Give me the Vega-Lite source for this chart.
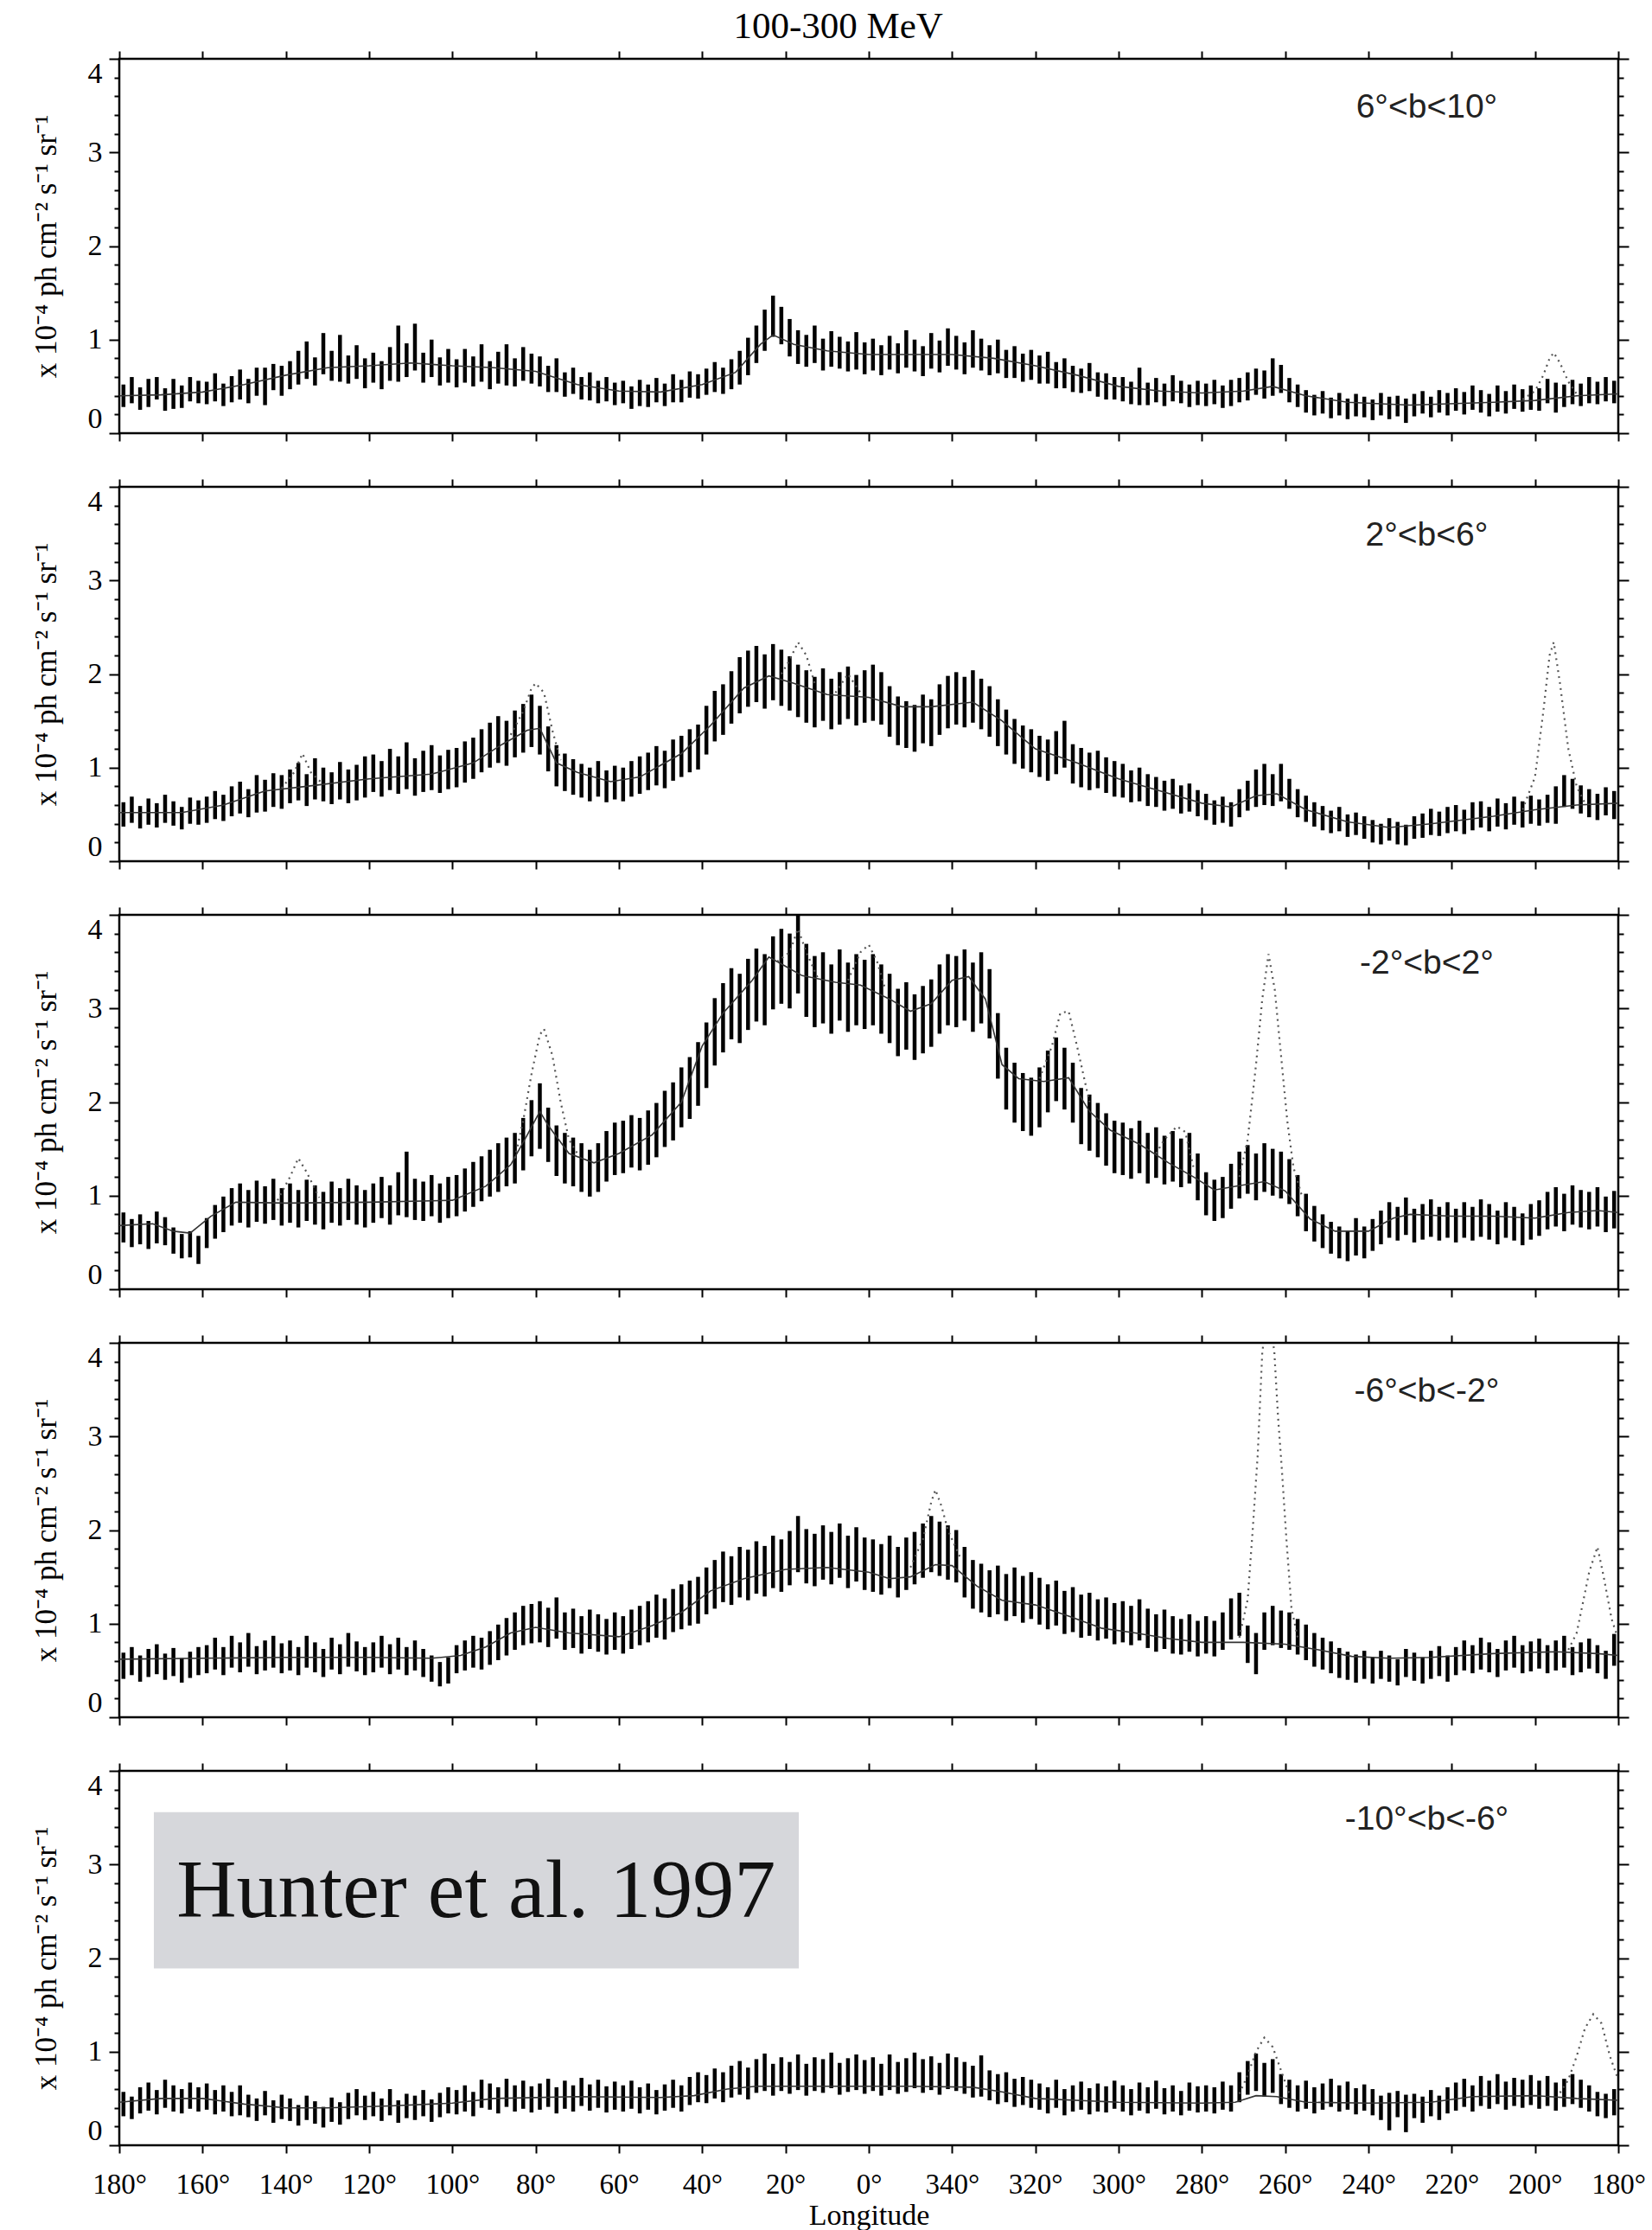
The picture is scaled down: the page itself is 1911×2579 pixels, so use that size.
{
"$schema":"https://vega.github.io/schema/vega-lite/v6.json",
"padding":{"left":34,"top":9,"right":5,"bottom":0},
"background":"white",
"title":{"text":"100-300 MeV","font":"Liberation Serif","fontSize":43,"fontWeight":"normal","color":"black","anchor":"middle","baseline":"alphabetic","offset":-30},
"spacing":38,
"config":{
"view":{"stroke":"black","strokeWidth":2.5},
"axis":{"domain":false,"grid":false,"tickColor":"black","tickWidth":2,"tickSize":9,"labelFont":"Liberation Serif","labelFontSize":34,"labelColor":"black","titleFont":"Liberation Serif","titleFontSize":35,"titleFontWeight":"normal","titleColor":"black"}
},
"datasets":{
"p1":[{"l":179,"v":0.40,"e":0.12},{"l":177,"v":0.46,"e":0.14},{"l":175,"v":0.37,"e":0.12},{"l":173,"v":0.43,"e":0.15},{"l":171,"v":0.48,"e":0.12},{"l":169,"v":0.36,"e":0.12},{"l":167,"v":0.42,"e":0.16},{"l":165,"v":0.39,"e":0.12},{"l":163,"v":0.47,"e":0.13},{"l":161,"v":0.44,"e":0.12},
{"l":159,"v":0.43,"e":0.12},{"l":157,"v":0.49,"e":0.15},{"l":155,"v":0.41,"e":0.12},{"l":153,"v":0.47,"e":0.14},{"l":151,"v":0.52,"e":0.16},{"l":149,"v":0.45,"e":0.13},{"l":147,"v":0.55,"e":0.15},{"l":145,"v":0.50,"e":0.2},{"l":143,"v":0.60,"e":0.14},{"l":141,"v":0.56,"e":0.16},
{"l":139,"v":0.62,"e":0.15},{"l":137,"v":0.70,"e":0.18},{"l":135,"v":0.78,"e":0.2},{"l":133,"v":0.66,"e":0.15},{"l":131,"v":0.85,"e":0.22},{"l":129,"v":0.72,"e":0.16},{"l":127,"v":0.80,"e":0.25},{"l":125,"v":0.68,"e":0.15},{"l":123,"v":0.76,"e":0.18},{"l":121,"v":0.64,"e":0.16},
{"l":119,"v":0.70,"e":0.16},{"l":117,"v":0.62,"e":0.15},{"l":115,"v":0.74,"e":0.18},{"l":113,"v":0.85,"e":0.3},{"l":111,"v":0.78,"e":0.18},{"l":109,"v":0.92,"e":0.25},{"l":107,"v":0.70,"e":0.16},{"l":105,"v":0.80,"e":0.2},{"l":103,"v":0.66,"e":0.15},{"l":101,"v":0.72,"e":0.18},
{"l":99,"v":0.64,"e":0.15},{"l":97,"v":0.72,"e":0.18},{"l":95,"v":0.66,"e":0.16},{"l":93,"v":0.75,"e":0.2},{"l":91,"v":0.62,"e":0.15},{"l":89,"v":0.70,"e":0.17},{"l":87,"v":0.73,"e":0.22},{"l":85,"v":0.65,"e":0.15},{"l":83,"v":0.74,"e":0.18},{"l":81,"v":0.69,"e":0.16},
{"l":79,"v":0.66,"e":0.16},{"l":77,"v":0.58,"e":0.14},{"l":75,"v":0.62,"e":0.18},{"l":73,"v":0.52,"e":0.13},{"l":71,"v":0.56,"e":0.14},{"l":69,"v":0.48,"e":0.12},{"l":67,"v":0.50,"e":0.15},{"l":65,"v":0.44,"e":0.12},{"l":63,"v":0.47,"e":0.13},{"l":61,"v":0.42,"e":0.12},
{"l":59,"v":0.44,"e":0.12},{"l":57,"v":0.38,"e":0.12},{"l":55,"v":0.43,"e":0.14},{"l":53,"v":0.40,"e":0.12},{"l":51,"v":0.46,"e":0.13},{"l":49,"v":0.41,"e":0.12},{"l":47,"v":0.48,"e":0.15},{"l":45,"v":0.45,"e":0.12},{"l":43,"v":0.52,"e":0.14},{"l":41,"v":0.50,"e":0.13},
{"l":39,"v":0.55,"e":0.14},{"l":37,"v":0.60,"e":0.16},{"l":35,"v":0.56,"e":0.14},{"l":33,"v":0.63,"e":0.16},{"l":31,"v":0.70,"e":0.18},{"l":29,"v":0.82,"e":0.2},{"l":27,"v":0.95,"e":0.2},{"l":25,"v":1.10,"e":0.22},{"l":23,"v":1.25,"e":0.22},{"l":21,"v":1.15,"e":0.2},
{"l":19,"v":1.02,"e":0.2},{"l":17,"v":0.92,"e":0.18},{"l":15,"v":0.88,"e":0.17},{"l":13,"v":0.95,"e":0.2},{"l":11,"v":0.84,"e":0.17},{"l":9,"v":0.90,"e":0.19},{"l":7,"v":0.86,"e":0.17},{"l":5,"v":0.82,"e":0.16},{"l":3,"v":0.88,"e":0.2},{"l":1,"v":0.80,"e":0.17},
{"l":-1,"v":0.84,"e":0.17},{"l":-3,"v":0.78,"e":0.16},{"l":-5,"v":0.86,"e":0.18},{"l":-7,"v":0.80,"e":0.16},{"l":-9,"v":0.90,"e":0.2},{"l":-11,"v":0.83,"e":0.17},{"l":-13,"v":0.77,"e":0.16},{"l":-15,"v":0.88,"e":0.19},{"l":-17,"v":0.82,"e":0.17},{"l":-19,"v":0.92,"e":0.2},
{"l":-21,"v":0.86,"e":0.18},{"l":-23,"v":0.80,"e":0.17},{"l":-25,"v":0.90,"e":0.2},{"l":-27,"v":0.84,"e":0.17},{"l":-29,"v":0.78,"e":0.16},{"l":-31,"v":0.82,"e":0.18},{"l":-33,"v":0.74,"e":0.15},{"l":-35,"v":0.76,"e":0.17},{"l":-37,"v":0.70,"e":0.15},{"l":-39,"v":0.73,"e":0.16},
{"l":-41,"v":0.68,"e":0.15},{"l":-43,"v":0.70,"e":0.17},{"l":-45,"v":0.62,"e":0.14},{"l":-47,"v":0.64,"e":0.16},{"l":-49,"v":0.58,"e":0.14},{"l":-51,"v":0.56,"e":0.13},{"l":-53,"v":0.60,"e":0.15},{"l":-55,"v":0.52,"e":0.13},{"l":-57,"v":0.50,"e":0.14},{"l":-59,"v":0.48,"e":0.12},
{"l":-61,"v":0.47,"e":0.13},{"l":-63,"v":0.43,"e":0.12},{"l":-65,"v":0.50,"e":0.2},{"l":-67,"v":0.42,"e":0.12},{"l":-69,"v":0.46,"e":0.13},{"l":-71,"v":0.41,"e":0.12},{"l":-73,"v":0.48,"e":0.14},{"l":-75,"v":0.44,"e":0.12},{"l":-77,"v":0.40,"e":0.12},{"l":-79,"v":0.43,"e":0.13},
{"l":-81,"v":0.41,"e":0.12},{"l":-83,"v":0.44,"e":0.13},{"l":-85,"v":0.39,"e":0.12},{"l":-87,"v":0.43,"e":0.14},{"l":-89,"v":0.46,"e":0.13},{"l":-91,"v":0.50,"e":0.15},{"l":-93,"v":0.55,"e":0.14},{"l":-95,"v":0.52,"e":0.15},{"l":-97,"v":0.60,"e":0.2},{"l":-99,"v":0.58,"e":0.15},
{"l":-101,"v":0.46,"e":0.13},{"l":-103,"v":0.40,"e":0.12},{"l":-105,"v":0.34,"e":0.12},{"l":-107,"v":0.30,"e":0.11},{"l":-109,"v":0.33,"e":0.12},{"l":-111,"v":0.27,"e":0.11},{"l":-113,"v":0.31,"e":0.12},{"l":-115,"v":0.26,"e":0.11},{"l":-117,"v":0.30,"e":0.12},{"l":-119,"v":0.28,"e":0.11},
{"l":-121,"v":0.25,"e":0.11},{"l":-123,"v":0.31,"e":0.12},{"l":-125,"v":0.27,"e":0.12},{"l":-127,"v":0.29,"e":0.11},{"l":-129,"v":0.24,"e":0.13},{"l":-131,"v":0.30,"e":0.12},{"l":-133,"v":0.33,"e":0.12},{"l":-135,"v":0.28,"e":0.11},{"l":-137,"v":0.34,"e":0.12},{"l":-139,"v":0.31,"e":0.12},
{"l":-141,"v":0.36,"e":0.12},{"l":-143,"v":0.32,"e":0.12},{"l":-145,"v":0.38,"e":0.13},{"l":-147,"v":0.34,"e":0.12},{"l":-149,"v":0.30,"e":0.12},{"l":-151,"v":0.37,"e":0.14},{"l":-153,"v":0.33,"e":0.12},{"l":-155,"v":0.39,"e":0.13},{"l":-157,"v":0.35,"e":0.12},{"l":-159,"v":0.38,"e":0.13},
{"l":-161,"v":0.36,"e":0.12},{"l":-163,"v":0.45,"e":0.13},{"l":-165,"v":0.38,"e":0.16},{"l":-167,"v":0.40,"e":0.12},{"l":-169,"v":0.44,"e":0.13},{"l":-171,"v":0.41,"e":0.12},{"l":-173,"v":0.46,"e":0.14},{"l":-175,"v":0.43,"e":0.12},{"l":-177,"v":0.47,"e":0.13},{"l":-179,"v":0.44,"e":0.12}],
"p2":[{"l":179,"v":0.50,"e":0.13},{"l":177,"v":0.55,"e":0.14},{"l":175,"v":0.47,"e":0.12},{"l":173,"v":0.53,"e":0.14},{"l":171,"v":0.49,"e":0.13},{"l":169,"v":0.56,"e":0.15},{"l":167,"v":0.51,"e":0.13},{"l":165,"v":0.46,"e":0.12},{"l":163,"v":0.54,"e":0.14},{"l":161,"v":0.52,"e":0.13},
{"l":159,"v":0.55,"e":0.14},{"l":157,"v":0.60,"e":0.15},{"l":155,"v":0.57,"e":0.14},{"l":153,"v":0.64,"e":0.16},{"l":151,"v":0.68,"e":0.17},{"l":149,"v":0.62,"e":0.15},{"l":147,"v":0.72,"e":0.2},{"l":145,"v":0.70,"e":0.17},{"l":143,"v":0.76,"e":0.18},{"l":141,"v":0.74,"e":0.18},
{"l":139,"v":0.80,"e":0.18},{"l":137,"v":0.85,"e":0.2},{"l":135,"v":0.76,"e":0.17},{"l":133,"v":0.88,"e":0.22},{"l":131,"v":0.82,"e":0.18},{"l":129,"v":0.78,"e":0.17},{"l":127,"v":0.86,"e":0.2},{"l":125,"v":0.80,"e":0.18},{"l":123,"v":0.84,"e":0.19},{"l":121,"v":0.90,"e":0.22},
{"l":119,"v":0.94,"e":0.2},{"l":117,"v":0.88,"e":0.19},{"l":115,"v":0.98,"e":0.22},{"l":113,"v":0.92,"e":0.2},{"l":111,"v":1.02,"e":0.25},{"l":109,"v":0.90,"e":0.2},{"l":107,"v":0.96,"e":0.22},{"l":105,"v":1.00,"e":0.24},{"l":103,"v":0.93,"e":0.2},{"l":101,"v":0.98,"e":0.21},
{"l":99,"v":1.00,"e":0.21},{"l":97,"v":1.06,"e":0.22},{"l":95,"v":1.10,"e":0.22},{"l":93,"v":1.18,"e":0.23},{"l":91,"v":1.24,"e":0.24},{"l":89,"v":1.30,"e":0.25},{"l":87,"v":1.26,"e":0.24},{"l":85,"v":1.36,"e":0.25},{"l":83,"v":1.42,"e":0.26},{"l":81,"v":1.50,"e":0.28},
{"l":79,"v":1.40,"e":0.26},{"l":77,"v":1.20,"e":0.24},{"l":75,"v":1.02,"e":0.22},{"l":73,"v":0.95,"e":0.2},{"l":71,"v":0.90,"e":0.19},{"l":69,"v":0.86,"e":0.18},{"l":67,"v":0.82,"e":0.18},{"l":65,"v":0.88,"e":0.19},{"l":63,"v":0.80,"e":0.17},{"l":61,"v":0.84,"e":0.18},
{"l":59,"v":0.82,"e":0.18},{"l":57,"v":0.88,"e":0.19},{"l":55,"v":0.92,"e":0.2},{"l":53,"v":0.96,"e":0.2},{"l":51,"v":1.02,"e":0.21},{"l":49,"v":0.98,"e":0.2},{"l":47,"v":1.08,"e":0.22},{"l":45,"v":1.12,"e":0.22},{"l":43,"v":1.18,"e":0.23},{"l":41,"v":1.22,"e":0.24},
{"l":39,"v":1.40,"e":0.26},{"l":37,"v":1.55,"e":0.27},{"l":35,"v":1.62,"e":0.27},{"l":33,"v":1.75,"e":0.28},{"l":31,"v":1.88,"e":0.3},{"l":29,"v":1.95,"e":0.3},{"l":27,"v":2.00,"e":0.3},{"l":25,"v":1.92,"e":0.29},{"l":23,"v":2.02,"e":0.3},{"l":21,"v":1.96,"e":0.3},
{"l":19,"v":1.90,"e":0.29},{"l":17,"v":1.82,"e":0.28},{"l":15,"v":1.76,"e":0.28},{"l":13,"v":1.70,"e":0.27},{"l":11,"v":1.78,"e":0.28},{"l":9,"v":1.68,"e":0.27},{"l":7,"v":1.74,"e":0.28},{"l":5,"v":1.80,"e":0.28},{"l":3,"v":1.72,"e":0.27},{"l":1,"v":1.76,"e":0.28},
{"l":-1,"v":1.80,"e":0.3},{"l":-3,"v":1.74,"e":0.28},{"l":-5,"v":1.60,"e":0.27},{"l":-7,"v":1.50,"e":0.26},{"l":-9,"v":1.46,"e":0.25},{"l":-11,"v":1.42,"e":0.25},{"l":-13,"v":1.52,"e":0.26},{"l":-15,"v":1.48,"e":0.25},{"l":-17,"v":1.62,"e":0.27},{"l":-19,"v":1.70,"e":0.28},
{"l":-21,"v":1.74,"e":0.28},{"l":-23,"v":1.70,"e":0.27},{"l":-25,"v":1.76,"e":0.28},{"l":-27,"v":1.68,"e":0.27},{"l":-29,"v":1.60,"e":0.27},{"l":-31,"v":1.48,"e":0.25},{"l":-33,"v":1.38,"e":0.24},{"l":-35,"v":1.28,"e":0.24},{"l":-37,"v":1.22,"e":0.23},{"l":-39,"v":1.18,"e":0.23},
{"l":-41,"v":1.12,"e":0.22},{"l":-43,"v":1.08,"e":0.22},{"l":-45,"v":1.16,"e":0.23},{"l":-47,"v":1.25,"e":0.25},{"l":-49,"v":1.04,"e":0.21},{"l":-51,"v":1.00,"e":0.21},{"l":-53,"v":0.96,"e":0.2},{"l":-55,"v":0.98,"e":0.2},{"l":-57,"v":0.92,"e":0.19},{"l":-59,"v":0.88,"e":0.19},
{"l":-61,"v":0.86,"e":0.18},{"l":-63,"v":0.80,"e":0.17},{"l":-65,"v":0.82,"e":0.18},{"l":-67,"v":0.76,"e":0.17},{"l":-69,"v":0.74,"e":0.16},{"l":-71,"v":0.70,"e":0.16},{"l":-73,"v":0.72,"e":0.16},{"l":-75,"v":0.66,"e":0.15},{"l":-77,"v":0.68,"e":0.15},{"l":-79,"v":0.62,"e":0.14},
{"l":-81,"v":0.58,"e":0.14},{"l":-83,"v":0.52,"e":0.13},{"l":-85,"v":0.55,"e":0.14},{"l":-87,"v":0.50,"e":0.13},{"l":-89,"v":0.62,"e":0.15},{"l":-91,"v":0.70,"e":0.16},{"l":-93,"v":0.78,"e":0.2},{"l":-95,"v":0.82,"e":0.22},{"l":-97,"v":0.76,"e":0.17},{"l":-99,"v":0.84,"e":0.2},
{"l":-101,"v":0.72,"e":0.16},{"l":-103,"v":0.62,"e":0.15},{"l":-105,"v":0.56,"e":0.14},{"l":-107,"v":0.50,"e":0.13},{"l":-109,"v":0.46,"e":0.13},{"l":-111,"v":0.42,"e":0.12},{"l":-113,"v":0.45,"e":0.13},{"l":-115,"v":0.38,"e":0.12},{"l":-117,"v":0.40,"e":0.12},{"l":-119,"v":0.36,"e":0.12},
{"l":-121,"v":0.32,"e":0.12},{"l":-123,"v":0.29,"e":0.11},{"l":-125,"v":0.34,"e":0.12},{"l":-127,"v":0.30,"e":0.12},{"l":-129,"v":0.28,"e":0.11},{"l":-131,"v":0.36,"e":0.12},{"l":-133,"v":0.38,"e":0.13},{"l":-135,"v":0.42,"e":0.14},{"l":-137,"v":0.40,"e":0.13},{"l":-139,"v":0.44,"e":0.14},
{"l":-141,"v":0.46,"e":0.14},{"l":-143,"v":0.42,"e":0.13},{"l":-145,"v":0.48,"e":0.15},{"l":-147,"v":0.50,"e":0.14},{"l":-149,"v":0.45,"e":0.13},{"l":-151,"v":0.52,"e":0.15},{"l":-153,"v":0.48,"e":0.14},{"l":-155,"v":0.54,"e":0.15},{"l":-157,"v":0.50,"e":0.14},{"l":-159,"v":0.55,"e":0.15},
{"l":-161,"v":0.52,"e":0.14},{"l":-163,"v":0.56,"e":0.15},{"l":-165,"v":0.60,"e":0.2},{"l":-167,"v":0.75,"e":0.17},{"l":-169,"v":0.72,"e":0.16},{"l":-171,"v":0.66,"e":0.15},{"l":-173,"v":0.62,"e":0.15},{"l":-175,"v":0.58,"e":0.14},{"l":-177,"v":0.64,"e":0.15},{"l":-179,"v":0.60,"e":0.15}],
"p3":[{"l":179,"v":0.66,"e":0.16},{"l":177,"v":0.60,"e":0.15},{"l":175,"v":0.64,"e":0.16},{"l":173,"v":0.58,"e":0.15},{"l":171,"v":0.66,"e":0.17},{"l":169,"v":0.62,"e":0.15},{"l":167,"v":0.52,"e":0.14},{"l":165,"v":0.46,"e":0.13},{"l":163,"v":0.48,"e":0.14},{"l":161,"v":0.42,"e":0.15},
{"l":159,"v":0.60,"e":0.16},{"l":157,"v":0.72,"e":0.18},{"l":155,"v":0.80,"e":0.19},{"l":153,"v":0.88,"e":0.2},{"l":151,"v":0.92,"e":0.21},{"l":149,"v":0.86,"e":0.2},{"l":147,"v":0.94,"e":0.22},{"l":145,"v":0.90,"e":0.2},{"l":143,"v":0.96,"e":0.22},{"l":141,"v":0.88,"e":0.2},
{"l":139,"v":0.92,"e":0.21},{"l":137,"v":0.86,"e":0.2},{"l":135,"v":0.95,"e":0.22},{"l":133,"v":0.90,"e":0.21},{"l":131,"v":0.84,"e":0.2},{"l":129,"v":0.93,"e":0.22},{"l":127,"v":0.88,"e":0.2},{"l":125,"v":0.96,"e":0.22},{"l":123,"v":0.90,"e":0.21},{"l":121,"v":0.86,"e":0.2},
{"l":119,"v":0.92,"e":0.21},{"l":117,"v":0.98,"e":0.22},{"l":115,"v":0.90,"e":0.21},{"l":113,"v":1.02,"e":0.23},{"l":111,"v":1.12,"e":0.35},{"l":109,"v":0.96,"e":0.22},{"l":107,"v":0.94,"e":0.21},{"l":105,"v":1.00,"e":0.22},{"l":103,"v":0.92,"e":0.21},{"l":101,"v":0.98,"e":0.22},
{"l":99,"v":1.00,"e":0.22},{"l":97,"v":1.06,"e":0.23},{"l":95,"v":1.12,"e":0.24},{"l":93,"v":1.18,"e":0.24},{"l":91,"v":1.24,"e":0.25},{"l":89,"v":1.30,"e":0.26},{"l":87,"v":1.36,"e":0.26},{"l":85,"v":1.40,"e":0.27},{"l":83,"v":1.55,"e":0.28},{"l":81,"v":1.72,"e":0.3},
{"l":79,"v":1.85,"e":0.35},{"l":77,"v":1.65,"e":0.29},{"l":75,"v":1.48,"e":0.27},{"l":73,"v":1.40,"e":0.27},{"l":71,"v":1.36,"e":0.26},{"l":69,"v":1.30,"e":0.26},{"l":67,"v":1.24,"e":0.25},{"l":65,"v":1.30,"e":0.26},{"l":63,"v":1.42,"e":0.27},{"l":61,"v":1.50,"e":0.28},
{"l":59,"v":1.52,"e":0.28},{"l":57,"v":1.58,"e":0.28},{"l":55,"v":1.55,"e":0.28},{"l":53,"v":1.62,"e":0.29},{"l":51,"v":1.70,"e":0.29},{"l":49,"v":1.82,"e":0.3},{"l":47,"v":1.90,"e":0.31},{"l":45,"v":2.05,"e":0.32},{"l":43,"v":2.15,"e":0.33},{"l":41,"v":2.30,"e":0.34},
{"l":39,"v":2.50,"e":0.35},{"l":37,"v":2.75,"e":0.36},{"l":35,"v":2.90,"e":0.37},{"l":33,"v":3.05,"e":0.38},{"l":31,"v":3.00,"e":0.37},{"l":29,"v":3.15,"e":0.38},{"l":27,"v":3.25,"e":0.39},{"l":25,"v":3.20,"e":0.38},{"l":23,"v":3.38,"e":0.39},{"l":21,"v":3.45,"e":0.4},
{"l":19,"v":3.40,"e":0.4},{"l":17,"v":3.58,"e":0.42},{"l":15,"v":3.30,"e":0.39},{"l":13,"v":3.18,"e":0.38},{"l":11,"v":3.22,"e":0.38},{"l":9,"v":3.10,"e":0.37},{"l":7,"v":3.25,"e":0.38},{"l":5,"v":3.12,"e":0.37},{"l":3,"v":3.20,"e":0.38},{"l":1,"v":3.15,"e":0.37},
{"l":-1,"v":3.20,"e":0.38},{"l":-3,"v":3.10,"e":0.37},{"l":-5,"v":3.00,"e":0.37},{"l":-7,"v":2.85,"e":0.36},{"l":-9,"v":2.92,"e":0.36},{"l":-11,"v":2.80,"e":0.35},{"l":-13,"v":2.88,"e":0.36},{"l":-15,"v":2.95,"e":0.36},{"l":-17,"v":3.10,"e":0.37},{"l":-19,"v":3.20,"e":0.38},
{"l":-21,"v":3.18,"e":0.38},{"l":-23,"v":3.25,"e":0.38},{"l":-25,"v":3.12,"e":0.37},{"l":-27,"v":3.22,"e":0.38},{"l":-29,"v":3.05,"e":0.37},{"l":-31,"v":2.60,"e":0.35},{"l":-33,"v":2.25,"e":0.33},{"l":-35,"v":2.10,"e":0.32},{"l":-37,"v":2.00,"e":0.31},{"l":-39,"v":1.95,"e":0.31},
{"l":-41,"v":2.05,"e":0.32},{"l":-43,"v":2.22,"e":0.33},{"l":-45,"v":2.35,"e":0.34},{"l":-47,"v":2.25,"e":0.33},{"l":-49,"v":2.10,"e":0.32},{"l":-51,"v":1.85,"e":0.3},{"l":-53,"v":1.78,"e":0.3},{"l":-55,"v":1.70,"e":0.29},{"l":-57,"v":1.60,"e":0.28},{"l":-59,"v":1.52,"e":0.28},
{"l":-61,"v":1.50,"e":0.28},{"l":-63,"v":1.45,"e":0.27},{"l":-65,"v":1.52,"e":0.28},{"l":-67,"v":1.40,"e":0.27},{"l":-69,"v":1.46,"e":0.27},{"l":-71,"v":1.38,"e":0.26},{"l":-73,"v":1.42,"e":0.27},{"l":-75,"v":1.35,"e":0.26},{"l":-77,"v":1.40,"e":0.27},{"l":-79,"v":1.20,"e":0.25},
{"l":-81,"v":1.02,"e":0.23},{"l":-83,"v":0.95,"e":0.22},{"l":-85,"v":0.98,"e":0.22},{"l":-87,"v":1.10,"e":0.24},{"l":-89,"v":1.22,"e":0.25},{"l":-91,"v":1.28,"e":0.26},{"l":-93,"v":1.20,"e":0.25},{"l":-95,"v":1.30,"e":0.26},{"l":-97,"v":1.25,"e":0.25},{"l":-99,"v":1.22,"e":0.25},
{"l":-101,"v":1.15,"e":0.24},{"l":-103,"v":1.00,"e":0.22},{"l":-105,"v":0.82,"e":0.2},{"l":-107,"v":0.70,"e":0.19},{"l":-109,"v":0.62,"e":0.18},{"l":-111,"v":0.55,"e":0.17},{"l":-113,"v":0.50,"e":0.17},{"l":-115,"v":0.46,"e":0.16},{"l":-117,"v":0.56,"e":0.2},{"l":-119,"v":0.50,"e":0.17},
{"l":-121,"v":0.58,"e":0.17},{"l":-123,"v":0.66,"e":0.18},{"l":-125,"v":0.74,"e":0.19},{"l":-127,"v":0.70,"e":0.18},{"l":-129,"v":0.78,"e":0.2},{"l":-131,"v":0.68,"e":0.18},{"l":-133,"v":0.72,"e":0.19},{"l":-135,"v":0.76,"e":0.2},{"l":-137,"v":0.70,"e":0.18},{"l":-139,"v":0.74,"e":0.19},
{"l":-141,"v":0.68,"e":0.18},{"l":-143,"v":0.74,"e":0.19},{"l":-145,"v":0.70,"e":0.18},{"l":-147,"v":0.76,"e":0.2},{"l":-149,"v":0.72,"e":0.19},{"l":-151,"v":0.66,"e":0.18},{"l":-153,"v":0.74,"e":0.19},{"l":-155,"v":0.70,"e":0.18},{"l":-157,"v":0.64,"e":0.17},{"l":-159,"v":0.72,"e":0.19},
{"l":-161,"v":0.76,"e":0.19},{"l":-163,"v":0.84,"e":0.2},{"l":-165,"v":0.88,"e":0.21},{"l":-167,"v":0.82,"e":0.2},{"l":-169,"v":0.90,"e":0.21},{"l":-171,"v":0.86,"e":0.2},{"l":-173,"v":0.84,"e":0.2},{"l":-175,"v":0.88,"e":0.21},{"l":-177,"v":0.80,"e":0.19},{"l":-179,"v":0.85,"e":0.2}],
"p4":[{"l":179,"v":0.55,"e":0.14},{"l":177,"v":0.60,"e":0.15},{"l":175,"v":0.52,"e":0.14},{"l":173,"v":0.58,"e":0.15},{"l":171,"v":0.62,"e":0.16},{"l":169,"v":0.54,"e":0.14},{"l":167,"v":0.59,"e":0.15},{"l":165,"v":0.50,"e":0.13},{"l":163,"v":0.56,"e":0.14},{"l":161,"v":0.60,"e":0.15},
{"l":159,"v":0.62,"e":0.15},{"l":157,"v":0.68,"e":0.17},{"l":155,"v":0.60,"e":0.15},{"l":153,"v":0.70,"e":0.17},{"l":151,"v":0.64,"e":0.16},{"l":149,"v":0.72,"e":0.18},{"l":147,"v":0.61,"e":0.15},{"l":145,"v":0.66,"e":0.16},{"l":143,"v":0.70,"e":0.17},{"l":141,"v":0.63,"e":0.16},
{"l":139,"v":0.66,"e":0.16},{"l":137,"v":0.60,"e":0.15},{"l":135,"v":0.70,"e":0.17},{"l":133,"v":0.64,"e":0.16},{"l":131,"v":0.58,"e":0.15},{"l":129,"v":0.68,"e":0.17},{"l":127,"v":0.62,"e":0.16},{"l":125,"v":0.72,"e":0.18},{"l":123,"v":0.65,"e":0.16},{"l":121,"v":0.60,"e":0.15},
{"l":119,"v":0.64,"e":0.16},{"l":117,"v":0.70,"e":0.17},{"l":115,"v":0.62,"e":0.16},{"l":113,"v":0.68,"e":0.17},{"l":111,"v":0.60,"e":0.15},{"l":109,"v":0.66,"e":0.16},{"l":107,"v":0.58,"e":0.15},{"l":105,"v":0.52,"e":0.14},{"l":103,"v":0.46,"e":0.13},{"l":101,"v":0.50,"e":0.14},
{"l":99,"v":0.62,"e":0.15},{"l":97,"v":0.66,"e":0.16},{"l":95,"v":0.70,"e":0.17},{"l":93,"v":0.68,"e":0.17},{"l":91,"v":0.74,"e":0.18},{"l":89,"v":0.80,"e":0.19},{"l":87,"v":0.86,"e":0.2},{"l":85,"v":0.92,"e":0.2},{"l":83,"v":0.98,"e":0.21},{"l":81,"v":1.00,"e":0.21},
{"l":79,"v":1.02,"e":0.22},{"l":77,"v":0.96,"e":0.21},{"l":75,"v":1.06,"e":0.22},{"l":73,"v":0.92,"e":0.2},{"l":71,"v":0.95,"e":0.21},{"l":69,"v":0.88,"e":0.2},{"l":67,"v":0.94,"e":0.21},{"l":65,"v":0.90,"e":0.2},{"l":63,"v":0.86,"e":0.19},{"l":61,"v":0.92,"e":0.2},
{"l":59,"v":0.88,"e":0.2},{"l":57,"v":0.94,"e":0.21},{"l":55,"v":0.98,"e":0.21},{"l":53,"v":1.02,"e":0.22},{"l":51,"v":1.08,"e":0.23},{"l":49,"v":1.05,"e":0.22},{"l":47,"v":1.14,"e":0.23},{"l":45,"v":1.18,"e":0.24},{"l":43,"v":1.22,"e":0.24},{"l":41,"v":1.25,"e":0.25},
{"l":39,"v":1.35,"e":0.25},{"l":37,"v":1.42,"e":0.26},{"l":35,"v":1.50,"e":0.27},{"l":33,"v":1.46,"e":0.26},{"l":31,"v":1.55,"e":0.27},{"l":29,"v":1.52,"e":0.27},{"l":27,"v":1.60,"e":0.28},{"l":25,"v":1.56,"e":0.27},{"l":23,"v":1.66,"e":0.28},{"l":21,"v":1.62,"e":0.28},
{"l":19,"v":1.70,"e":0.29},{"l":17,"v":1.85,"e":0.3},{"l":15,"v":1.72,"e":0.29},{"l":13,"v":1.68,"e":0.28},{"l":11,"v":1.76,"e":0.29},{"l":9,"v":1.70,"e":0.28},{"l":7,"v":1.78,"e":0.29},{"l":5,"v":1.66,"e":0.28},{"l":3,"v":1.74,"e":0.29},{"l":1,"v":1.64,"e":0.28},
{"l":-1,"v":1.62,"e":0.28},{"l":-3,"v":1.58,"e":0.27},{"l":-5,"v":1.66,"e":0.28},{"l":-7,"v":1.55,"e":0.27},{"l":-9,"v":1.64,"e":0.28},{"l":-11,"v":1.70,"e":0.28},{"l":-13,"v":1.78,"e":0.29},{"l":-15,"v":1.85,"e":0.3},{"l":-17,"v":1.80,"e":0.29},{"l":-19,"v":1.76,"e":0.29},
{"l":-21,"v":1.72,"e":0.28},{"l":-23,"v":1.55,"e":0.27},{"l":-25,"v":1.42,"e":0.26},{"l":-27,"v":1.38,"e":0.26},{"l":-29,"v":1.32,"e":0.25},{"l":-31,"v":1.36,"e":0.26},{"l":-33,"v":1.28,"e":0.25},{"l":-35,"v":1.34,"e":0.26},{"l":-37,"v":1.26,"e":0.25},{"l":-39,"v":1.30,"e":0.25},
{"l":-41,"v":1.24,"e":0.25},{"l":-43,"v":1.18,"e":0.24},{"l":-45,"v":1.22,"e":0.24},{"l":-47,"v":1.12,"e":0.23},{"l":-49,"v":1.15,"e":0.24},{"l":-51,"v":1.08,"e":0.23},{"l":-53,"v":1.10,"e":0.23},{"l":-55,"v":1.04,"e":0.22},{"l":-57,"v":1.06,"e":0.22},{"l":-59,"v":1.00,"e":0.22},
{"l":-61,"v":1.02,"e":0.22},{"l":-63,"v":0.98,"e":0.21},{"l":-65,"v":1.04,"e":0.22},{"l":-67,"v":0.95,"e":0.21},{"l":-69,"v":0.90,"e":0.2},{"l":-71,"v":0.94,"e":0.21},{"l":-73,"v":0.88,"e":0.2},{"l":-75,"v":0.86,"e":0.19},{"l":-77,"v":0.90,"e":0.2},{"l":-79,"v":0.84,"e":0.19},
{"l":-81,"v":0.88,"e":0.2},{"l":-83,"v":0.84,"e":0.19},{"l":-85,"v":0.92,"e":0.2},{"l":-87,"v":1.05,"e":0.22},{"l":-89,"v":1.10,"e":0.23},{"l":-91,"v":0.78,"e":0.2},{"l":-93,"v":0.68,"e":0.22},{"l":-95,"v":0.92,"e":0.2},{"l":-97,"v":0.98,"e":0.21},{"l":-99,"v":0.94,"e":0.2},
{"l":-101,"v":0.92,"e":0.2},{"l":-103,"v":0.86,"e":0.19},{"l":-105,"v":0.80,"e":0.19},{"l":-107,"v":0.72,"e":0.18},{"l":-109,"v":0.68,"e":0.17},{"l":-111,"v":0.64,"e":0.17},{"l":-113,"v":0.58,"e":0.16},{"l":-115,"v":0.55,"e":0.15},{"l":-117,"v":0.52,"e":0.15},{"l":-119,"v":0.56,"e":0.15},
{"l":-121,"v":0.50,"e":0.14},{"l":-123,"v":0.56,"e":0.15},{"l":-125,"v":0.52,"e":0.14},{"l":-127,"v":0.48,"e":0.14},{"l":-129,"v":0.58,"e":0.15},{"l":-131,"v":0.54,"e":0.15},{"l":-133,"v":0.50,"e":0.14},{"l":-135,"v":0.56,"e":0.15},{"l":-137,"v":0.60,"e":0.16},{"l":-139,"v":0.52,"e":0.14},
{"l":-141,"v":0.60,"e":0.15},{"l":-143,"v":0.66,"e":0.16},{"l":-145,"v":0.62,"e":0.15},{"l":-147,"v":0.68,"e":0.17},{"l":-149,"v":0.64,"e":0.16},{"l":-151,"v":0.58,"e":0.15},{"l":-153,"v":0.66,"e":0.16},{"l":-155,"v":0.70,"e":0.17},{"l":-157,"v":0.62,"e":0.15},{"l":-159,"v":0.65,"e":0.16},
{"l":-161,"v":0.68,"e":0.16},{"l":-163,"v":0.62,"e":0.15},{"l":-165,"v":0.66,"e":0.16},{"l":-167,"v":0.70,"e":0.17},{"l":-169,"v":0.60,"e":0.15},{"l":-171,"v":0.64,"e":0.16},{"l":-173,"v":0.68,"e":0.16},{"l":-175,"v":0.62,"e":0.15},{"l":-177,"v":0.56,"e":0.15},{"l":-179,"v":0.72,"e":0.17}],
"p5":[{"l":179,"v":0.44,"e":0.13},{"l":177,"v":0.40,"e":0.12},{"l":175,"v":0.48,"e":0.14},{"l":173,"v":0.52,"e":0.15},{"l":171,"v":0.46,"e":0.13},{"l":169,"v":0.55,"e":0.15},{"l":167,"v":0.50,"e":0.14},{"l":165,"v":0.47,"e":0.13},{"l":163,"v":0.53,"e":0.14},{"l":161,"v":0.49,"e":0.13},
{"l":159,"v":0.52,"e":0.14},{"l":157,"v":0.46,"e":0.13},{"l":155,"v":0.50,"e":0.14},{"l":153,"v":0.44,"e":0.13},{"l":151,"v":0.48,"e":0.16},{"l":149,"v":0.42,"e":0.12},{"l":147,"v":0.38,"e":0.12},{"l":145,"v":0.45,"e":0.13},{"l":143,"v":0.36,"e":0.12},{"l":141,"v":0.41,"e":0.13},
{"l":139,"v":0.38,"e":0.12},{"l":137,"v":0.32,"e":0.11},{"l":135,"v":0.40,"e":0.13},{"l":133,"v":0.35,"e":0.12},{"l":131,"v":0.30,"e":0.11},{"l":129,"v":0.38,"e":0.13},{"l":127,"v":0.34,"e":0.12},{"l":125,"v":0.42,"e":0.14},{"l":123,"v":0.46,"e":0.14},{"l":121,"v":0.40,"e":0.13},
{"l":119,"v":0.44,"e":0.13},{"l":117,"v":0.38,"e":0.12},{"l":115,"v":0.46,"e":0.14},{"l":113,"v":0.36,"e":0.12},{"l":111,"v":0.42,"e":0.13},{"l":109,"v":0.40,"e":0.13},{"l":107,"v":0.45,"e":0.14},{"l":105,"v":0.37,"e":0.12},{"l":103,"v":0.43,"e":0.13},{"l":101,"v":0.48,"e":0.14},
{"l":99,"v":0.46,"e":0.13},{"l":97,"v":0.50,"e":0.14},{"l":95,"v":0.44,"e":0.13},{"l":93,"v":0.55,"e":0.15},{"l":91,"v":0.52,"e":0.14},{"l":89,"v":0.48,"e":0.14},{"l":87,"v":0.56,"e":0.15},{"l":85,"v":0.50,"e":0.14},{"l":83,"v":0.54,"e":0.15},{"l":81,"v":0.49,"e":0.14},
{"l":79,"v":0.52,"e":0.14},{"l":77,"v":0.56,"e":0.15},{"l":75,"v":0.48,"e":0.14},{"l":73,"v":0.54,"e":0.15},{"l":71,"v":0.50,"e":0.14},{"l":69,"v":0.57,"e":0.15},{"l":67,"v":0.51,"e":0.14},{"l":65,"v":0.55,"e":0.15},{"l":63,"v":0.49,"e":0.14},{"l":61,"v":0.53,"e":0.15},
{"l":59,"v":0.50,"e":0.14},{"l":57,"v":0.54,"e":0.15},{"l":55,"v":0.48,"e":0.14},{"l":53,"v":0.52,"e":0.14},{"l":51,"v":0.46,"e":0.13},{"l":49,"v":0.51,"e":0.14},{"l":47,"v":0.55,"e":0.15},{"l":45,"v":0.50,"e":0.14},{"l":43,"v":0.58,"e":0.15},{"l":41,"v":0.62,"e":0.16},
{"l":39,"v":0.60,"e":0.15},{"l":37,"v":0.66,"e":0.16},{"l":35,"v":0.62,"e":0.16},{"l":33,"v":0.68,"e":0.17},{"l":31,"v":0.72,"e":0.18},{"l":29,"v":0.66,"e":0.17},{"l":27,"v":0.74,"e":0.18},{"l":25,"v":0.78,"e":0.2},{"l":23,"v":0.70,"e":0.17},{"l":21,"v":0.76,"e":0.18},
{"l":19,"v":0.72,"e":0.17},{"l":17,"v":0.78,"e":0.19},{"l":15,"v":0.70,"e":0.17},{"l":13,"v":0.76,"e":0.18},{"l":11,"v":0.74,"e":0.18},{"l":9,"v":0.80,"e":0.19},{"l":7,"v":0.71,"e":0.17},{"l":5,"v":0.75,"e":0.18},{"l":3,"v":0.78,"e":0.19},{"l":1,"v":0.73,"e":0.18},
{"l":-1,"v":0.76,"e":0.18},{"l":-3,"v":0.70,"e":0.17},{"l":-5,"v":0.78,"e":0.19},{"l":-7,"v":0.72,"e":0.17},{"l":-9,"v":0.75,"e":0.18},{"l":-11,"v":0.80,"e":0.19},{"l":-13,"v":0.74,"e":0.18},{"l":-15,"v":0.77,"e":0.18},{"l":-17,"v":0.71,"e":0.17},{"l":-19,"v":0.79,"e":0.19},
{"l":-21,"v":0.76,"e":0.18},{"l":-23,"v":0.72,"e":0.17},{"l":-25,"v":0.68,"e":0.17},{"l":-27,"v":0.74,"e":0.22},{"l":-29,"v":0.64,"e":0.16},{"l":-31,"v":0.60,"e":0.16},{"l":-33,"v":0.62,"e":0.16},{"l":-35,"v":0.56,"e":0.15},{"l":-37,"v":0.58,"e":0.15},{"l":-39,"v":0.55,"e":0.15},
{"l":-41,"v":0.52,"e":0.14},{"l":-43,"v":0.48,"e":0.14},{"l":-45,"v":0.55,"e":0.15},{"l":-47,"v":0.46,"e":0.14},{"l":-49,"v":0.50,"e":0.14},{"l":-51,"v":0.53,"e":0.15},{"l":-53,"v":0.47,"e":0.14},{"l":-55,"v":0.51,"e":0.15},{"l":-57,"v":0.49,"e":0.14},{"l":-59,"v":0.54,"e":0.15},
{"l":-61,"v":0.50,"e":0.14},{"l":-63,"v":0.46,"e":0.14},{"l":-65,"v":0.52,"e":0.15},{"l":-67,"v":0.48,"e":0.14},{"l":-69,"v":0.54,"e":0.15},{"l":-71,"v":0.47,"e":0.14},{"l":-73,"v":0.50,"e":0.14},{"l":-75,"v":0.45,"e":0.13},{"l":-77,"v":0.52,"e":0.15},{"l":-79,"v":0.49,"e":0.14},
{"l":-81,"v":0.50,"e":0.14},{"l":-83,"v":0.48,"e":0.14},{"l":-85,"v":0.53,"e":0.15},{"l":-87,"v":0.50,"e":0.14},{"l":-89,"v":0.62,"e":0.16},{"l":-91,"v":0.72,"e":0.18},{"l":-93,"v":0.78,"e":0.2},{"l":-95,"v":0.70,"e":0.18},{"l":-97,"v":0.74,"e":0.18},{"l":-99,"v":0.60,"e":0.16},
{"l":-101,"v":0.55,"e":0.15},{"l":-103,"v":0.50,"e":0.14},{"l":-105,"v":0.54,"e":0.15},{"l":-107,"v":0.48,"e":0.14},{"l":-109,"v":0.52,"e":0.14},{"l":-111,"v":0.56,"e":0.15},{"l":-113,"v":0.50,"e":0.14},{"l":-115,"v":0.53,"e":0.15},{"l":-117,"v":0.47,"e":0.14},{"l":-119,"v":0.51,"e":0.14},
{"l":-121,"v":0.46,"e":0.14},{"l":-123,"v":0.40,"e":0.13},{"l":-125,"v":0.36,"e":0.2},{"l":-127,"v":0.44,"e":0.14},{"l":-129,"v":0.34,"e":0.2},{"l":-131,"v":0.42,"e":0.13},{"l":-133,"v":0.38,"e":0.14},{"l":-135,"v":0.45,"e":0.14},{"l":-137,"v":0.40,"e":0.13},{"l":-139,"v":0.48,"e":0.14},
{"l":-141,"v":0.52,"e":0.15},{"l":-143,"v":0.56,"e":0.15},{"l":-145,"v":0.50,"e":0.14},{"l":-147,"v":0.58,"e":0.16},{"l":-149,"v":0.54,"e":0.15},{"l":-151,"v":0.60,"e":0.16},{"l":-153,"v":0.53,"e":0.15},{"l":-155,"v":0.57,"e":0.15},{"l":-157,"v":0.55,"e":0.15},{"l":-159,"v":0.59,"e":0.16},
{"l":-161,"v":0.54,"e":0.15},{"l":-163,"v":0.58,"e":0.16},{"l":-165,"v":0.52,"e":0.15},{"l":-167,"v":0.56,"e":0.15},{"l":-169,"v":0.60,"e":0.16},{"l":-171,"v":0.55,"e":0.15},{"l":-173,"v":0.50,"e":0.14},{"l":-175,"v":0.44,"e":0.13},{"l":-177,"v":0.42,"e":0.13},{"l":-179,"v":0.46,"e":0.14}],
"m1":[{"l":180,"y":0.40},{"l":170,"y":0.41},{"l":160,"y":0.44},{"l":150,"y":0.52},{"l":140,"y":0.62},{"l":130,"y":0.70},{"l":120,"y":0.72},{"l":110,"y":0.75},{"l":100,"y":0.72},{"l":90,"y":0.70},{"l":80,"y":0.66},{"l":70,"y":0.52},{"l":60,"y":0.45},{"l":50,"y":0.44},{"l":40,"y":0.52},{"l":32,"y":0.65},{"l":26,"y":0.95},{"l":23,"y":1.05},{"l":18,"y":0.95},{"l":10,"y":0.88},{"l":0,"y":0.84},{"l":-10,"y":0.84},{"l":-20,"y":0.84},{"l":-30,"y":0.80},{"l":-40,"y":0.72},{"l":-50,"y":0.62},{"l":-60,"y":0.50},{"l":-70,"y":0.45},{"l":-80,"y":0.43},{"l":-90,"y":0.45},{"l":-97,"y":0.50},{"l":-105,"y":0.40},{"l":-115,"y":0.33},{"l":-130,"y":0.30},{"l":-150,"y":0.33},{"l":-160,"y":0.35},{"l":-170,"y":0.40},{"l":-180,"y":0.42}],
"m2":[{"l":180,"y":0.52},{"l":165,"y":0.52},{"l":155,"y":0.60},{"l":145,"y":0.75},{"l":135,"y":0.80},{"l":120,"y":0.88},{"l":105,"y":0.93},{"l":95,"y":1.05},{"l":88,"y":1.25},{"l":82,"y":1.40},{"l":79,"y":1.42},{"l":75,"y":1.05},{"l":70,"y":0.95},{"l":62,"y":0.85},{"l":55,"y":0.90},{"l":45,"y":1.15},{"l":38,"y":1.45},{"l":30,"y":1.85},{"l":24,"y":1.98},{"l":18,"y":1.90},{"l":10,"y":1.78},{"l":0,"y":1.75},{"l":-8,"y":1.65},{"l":-15,"y":1.65},{"l":-25,"y":1.70},{"l":-32,"y":1.50},{"l":-40,"y":1.20},{"l":-50,"y":1.05},{"l":-60,"y":0.88},{"l":-70,"y":0.75},{"l":-80,"y":0.62},{"l":-87,"y":0.58},{"l":-93,"y":0.70},{"l":-98,"y":0.72},{"l":-105,"y":0.55},{"l":-115,"y":0.42},{"l":-125,"y":0.36},{"l":-135,"y":0.40},{"l":-150,"y":0.48},{"l":-160,"y":0.55},{"l":-170,"y":0.60},{"l":-180,"y":0.62}],
"m3":[{"l":180,"y":0.68},{"l":172,"y":0.70},{"l":167,"y":0.62},{"l":163,"y":0.60},{"l":158,"y":0.78},{"l":152,"y":0.93},{"l":140,"y":0.92},{"l":120,"y":0.93},{"l":100,"y":0.95},{"l":92,"y":1.10},{"l":86,"y":1.33},{"l":82,"y":1.65},{"l":79,"y":1.90},{"l":77,"y":1.75},{"l":72,"y":1.45},{"l":66,"y":1.35},{"l":60,"y":1.45},{"l":52,"y":1.65},{"l":45,"y":2.0},{"l":40,"y":2.6},{"l":35,"y":2.95},{"l":28,"y":3.30},{"l":24,"y":3.55},{"l":20,"y":3.45},{"l":16,"y":3.35},{"l":8,"y":3.28},{"l":2,"y":3.25},{"l":-5,"y":3.10},{"l":-10,"y":2.97},{"l":-15,"y":3.05},{"l":-20,"y":3.30},{"l":-24,"y":3.34},{"l":-28,"y":3.10},{"l":-32,"y":2.40},{"l":-36,"y":2.25},{"l":-42,"y":2.22},{"l":-48,"y":2.26},{"l":-53,"y":1.90},{"l":-58,"y":1.70},{"l":-65,"y":1.55},{"l":-72,"y":1.35},{"l":-78,"y":1.20},{"l":-83,"y":1.06},{"l":-88,"y":1.10},{"l":-95,"y":1.15},{"l":-100,"y":1.05},{"l":-106,"y":0.75},{"l":-112,"y":0.62},{"l":-120,"y":0.62},{"l":-126,"y":0.76},{"l":-130,"y":0.80},{"l":-140,"y":0.78},{"l":-150,"y":0.78},{"l":-160,"y":0.76},{"l":-168,"y":0.82},{"l":-175,"y":0.84},{"l":-180,"y":0.82}],
"m4":[{"l":180,"y":0.62},{"l":160,"y":0.63},{"l":140,"y":0.64},{"l":120,"y":0.64},{"l":105,"y":0.63},{"l":98,"y":0.66},{"l":92,"y":0.75},{"l":86,"y":0.90},{"l":80,"y":0.96},{"l":72,"y":0.90},{"l":60,"y":0.86},{"l":52,"y":0.98},{"l":45,"y":1.12},{"l":38,"y":1.35},{"l":30,"y":1.48},{"l":20,"y":1.58},{"l":10,"y":1.60},{"l":0,"y":1.55},{"l":-5,"y":1.48},{"l":-10,"y":1.50},{"l":-16,"y":1.63},{"l":-20,"y":1.62},{"l":-26,"y":1.40},{"l":-32,"y":1.25},{"l":-40,"y":1.20},{"l":-48,"y":1.08},{"l":-56,"y":0.95},{"l":-64,"y":0.90},{"l":-72,"y":0.84},{"l":-80,"y":0.80},{"l":-90,"y":0.80},{"l":-100,"y":0.78},{"l":-108,"y":0.72},{"l":-116,"y":0.65},{"l":-125,"y":0.63},{"l":-135,"y":0.64},{"l":-150,"y":0.68},{"l":-165,"y":0.70},{"l":-175,"y":0.68},{"l":-180,"y":0.66}],
"m5":[{"l":180,"y":0.46},{"l":170,"y":0.50},{"l":160,"y":0.50},{"l":150,"y":0.44},{"l":140,"y":0.40},{"l":130,"y":0.40},{"l":115,"y":0.42},{"l":100,"y":0.45},{"l":90,"y":0.50},{"l":70,"y":0.52},{"l":50,"y":0.51},{"l":42,"y":0.53},{"l":34,"y":0.60},{"l":27,"y":0.63},{"l":10,"y":0.63},{"l":0,"y":0.63},{"l":-10,"y":0.63},{"l":-25,"y":0.62},{"l":-32,"y":0.57},{"l":-40,"y":0.50},{"l":-60,"y":0.46},{"l":-80,"y":0.45},{"l":-88,"y":0.46},{"l":-93,"y":0.53},{"l":-98,"y":0.52},{"l":-105,"y":0.46},{"l":-120,"y":0.45},{"l":-135,"y":0.46},{"l":-145,"y":0.52},{"l":-160,"y":0.53},{"l":-170,"y":0.50},{"l":-180,"y":0.48}],
"d1":[{"s":"a","l":-157,"y":0.36},{"s":"a","l":-160,"y":0.45},{"s":"a","l":-162,"y":0.62},{"s":"a","l":-163.5,"y":0.8},{"s":"a","l":-164.5,"y":0.86},{"s":"a","l":-166,"y":0.75},{"s":"a","l":-168,"y":0.55},{"s":"a","l":-170,"y":0.42}],
"d2":[{"s":"a","l":141,"y":0.78},{"s":"a","l":138,"y":0.95},{"s":"a","l":136,"y":1.15},{"s":"a","l":134,"y":0.95},{"s":"a","l":131,"y":0.82},
{"s":"b","l":86,"y":1.35},{"s":"b","l":83,"y":1.6},{"s":"b","l":81,"y":1.85},{"s":"b","l":80,"y":1.9},{"s":"b","l":78,"y":1.8},{"s":"b","l":76,"y":1.4},{"s":"b","l":74,"y":1.08},
{"s":"c","l":21,"y":2.0},{"s":"c","l":19,"y":2.15},{"s":"c","l":17,"y":2.34},{"s":"c","l":15,"y":2.2},{"s":"c","l":13,"y":1.9},
{"s":"d","l":8,"y":1.8},{"s":"d","l":5,"y":2.0},{"s":"d","l":2,"y":1.8},
{"s":"e","l":-157,"y":0.55},{"s":"e","l":-160,"y":0.9},{"s":"e","l":-162,"y":1.6},{"s":"e","l":-163.5,"y":2.2},{"s":"e","l":-164.5,"y":2.34},{"s":"e","l":-166,"y":1.9},{"s":"e","l":-168,"y":1.2},{"s":"e","l":-170,"y":0.8},{"s":"e","l":-172,"y":0.62}],
"d3":[{"s":"a","l":142,"y":0.95},{"s":"a","l":139,"y":1.2},{"s":"a","l":137,"y":1.4},{"s":"a","l":135,"y":1.25},{"s":"a","l":132,"y":0.98},
{"s":"b","l":85,"y":1.4},{"s":"b","l":83,"y":1.8},{"s":"b","l":81,"y":2.3},{"s":"b","l":79,"y":2.72},{"s":"b","l":78,"y":2.78},{"s":"b","l":76,"y":2.5},{"s":"b","l":74,"y":2.0},{"s":"b","l":72,"y":1.6},{"s":"b","l":70,"y":1.45},
{"s":"c","l":22,"y":3.5},{"s":"c","l":19,"y":3.6},{"s":"c","l":17,"y":3.85},{"s":"c","l":15,"y":3.6},{"s":"c","l":12,"y":3.3},
{"s":"d","l":5,"y":3.3},{"s":"d","l":2,"y":3.6},{"s":"d","l":0,"y":3.68},{"s":"d","l":-2,"y":3.5},{"s":"d","l":-4,"y":3.2},
{"s":"e","l":-41,"y":2.25},{"s":"e","l":-44,"y":2.6},{"s":"e","l":-46,"y":2.95},{"s":"e","l":-48,"y":2.97},{"s":"e","l":-50,"y":2.6},{"s":"e","l":-53,"y":2.0},
{"s":"f","l":-69,"y":1.45},{"s":"f","l":-71,"y":1.6},{"s":"f","l":-74,"y":1.74},{"s":"f","l":-76,"y":1.68},{"s":"f","l":-78,"y":1.3},
{"s":"g","l":-89,"y":1.2},{"s":"g","l":-91,"y":1.6},{"s":"g","l":-93,"y":2.4},{"s":"g","l":-94.5,"y":3.1},{"s":"g","l":-96,"y":3.58},{"s":"g","l":-97.5,"y":3.2},{"s":"g","l":-99,"y":2.5},{"s":"g","l":-100.5,"y":1.8},{"s":"g","l":-102,"y":1.3},{"s":"g","l":-104,"y":1.0}],
"d4":[{"s":"a","l":-10,"y":1.6},{"s":"a","l":-13,"y":1.9},{"s":"a","l":-15,"y":2.3},{"s":"a","l":-16,"y":2.43},{"s":"a","l":-17.5,"y":2.25},{"s":"a","l":-19,"y":2.0},{"s":"a","l":-22,"y":1.7},
{"s":"b","l":-89,"y":0.85},{"s":"b","l":-91,"y":1.26},{"s":"b","l":-92.2,"y":2.0},{"s":"b","l":-93.4,"y":2.8},{"s":"b","l":-94.5,"y":3.9},{"s":"b","l":-96,"y":4.4},{"s":"b","l":-97.4,"y":3.9},{"s":"b","l":-98.3,"y":3.2},{"s":"b","l":-99.2,"y":2.65},{"s":"b","l":-100.3,"y":1.9},{"s":"b","l":-101.5,"y":1.17},{"s":"b","l":-103,"y":0.85},
{"s":"c","l":-168,"y":0.72},{"s":"c","l":-170,"y":0.9},{"s":"c","l":-171.4,"y":1.2},{"s":"c","l":-173,"y":1.55},{"s":"c","l":-175,"y":1.82},{"s":"c","l":-176.5,"y":1.5},{"s":"c","l":-178.4,"y":1.05},{"s":"c","l":-179.5,"y":0.9}],
"d5":[{"s":"a","l":-89,"y":0.55},{"s":"a","l":-91,"y":0.75},{"s":"a","l":-93,"y":1.0},{"s":"a","l":-95,"y":1.15},{"s":"a","l":-97,"y":1.05},{"s":"a","l":-99,"y":0.8},{"s":"a","l":-101,"y":0.55},
{"s":"b","l":-166,"y":0.56},{"s":"b","l":-168,"y":0.7},{"s":"b","l":-170,"y":0.95},{"s":"b","l":-172,"y":1.25},{"s":"b","l":-174,"y":1.4},{"s":"b","l":-176,"y":1.3},{"s":"b","l":-178,"y":0.95},{"s":"b","l":-180,"y":0.7}]
},
"vconcat":[
{"width":1734,"height":433,"data":{"name":"p1"},
"layer":[
{"mark":{"type":"errorbar","color":"black","thickness":4.5},"encoding":{
"x":{"field":"l","type":"quantitative","scale":{"domain":[180,-180],"nice":false,"zero":false},"axis":{"orient":"bottom","values":[180,160,140,120,100,80,60,40,20,0,-20,-40,-60,-80,-100,-120,-140,-160,-180],"labels":false,"title":null}},
"y":{"field":"v","type":"quantitative","scale":{"domain":[0,4],"nice":false,"zero":false},"axis":{"orient":"left","values":[0,0.2,0.4,0.6,0.8,1,1.2,1.4,1.6,1.8,2,2.2,2.4,2.6,2.8,3,3.2,3.4,3.6,3.8,4],"labelExpr":"abs(datum.value-round(datum.value))<0.01 ? format(datum.value,'d') : ''","tickSize":{"condition":{"test":"abs(datum.value-round(datum.value))<0.01","value":12},"value":6},"labelFlush":true,"labelPadding":8,"title":"x 10⁻⁴ ph cm⁻² s⁻¹ sr⁻¹","titlePadding":30}},
"yError":{"field":"e"}}},
{"data":{"name":"m1"},"mark":{"type":"line","color":"#333333","strokeWidth":1.6},"encoding":{
"x":{"field":"l","type":"quantitative","scale":{"domain":[180,-180],"nice":false,"zero":false},"axis":{"orient":"top","values":[180,160,140,120,100,80,60,40,20,0,-20,-40,-60,-80,-100,-120,-140,-160,-180],"labels":false,"title":null}},
"y":{"field":"y","type":"quantitative","scale":{"domain":[0,4],"nice":false,"zero":false},"axis":{"orient":"right","values":[0,0.2,0.4,0.6,0.8,1,1.2,1.4,1.6,1.8,2,2.2,2.4,2.6,2.8,3,3.2,3.4,3.6,3.8,4],"labels":false,"tickSize":{"condition":{"test":"abs(datum.value-round(datum.value))<0.01","value":12},"value":6},"title":null}}}},
{"data":{"name":"d1"},"mark":{"type":"line","color":"#555555","strokeWidth":2.2,"strokeDash":[2,5],"clip":true},"encoding":{
"x":{"field":"l","type":"quantitative","scale":{"domain":[180,-180],"nice":false,"zero":false},"axis":null},
"y":{"field":"y","type":"quantitative","scale":{"domain":[0,4],"nice":false,"zero":false},"axis":null},
"detail":{"field":"s"}}},
{"data":{"values":[{}]},"mark":{"type":"text","font":"Liberation Sans","fontSize":39,"color":"#222222","align":"center","baseline":"middle"},"encoding":{
"x":{"datum":-134,"type":"quantitative","scale":{"domain":[180,-180],"nice":false,"zero":false},"axis":null},
"y":{"datum":3.48,"type":"quantitative","scale":{"domain":[0,4],"nice":false,"zero":false},"axis":null},
"text":{"value":"6°<b<10°"}}}
],
"resolve":{"axis":{"x":"independent","y":"independent"}}},
{"width":1734,"height":433,"data":{"name":"p2"},
"layer":[
{"mark":{"type":"errorbar","color":"black","thickness":4.5},"encoding":{
"x":{"field":"l","type":"quantitative","scale":{"domain":[180,-180],"nice":false,"zero":false},"axis":{"orient":"bottom","values":[180,160,140,120,100,80,60,40,20,0,-20,-40,-60,-80,-100,-120,-140,-160,-180],"labels":false,"title":null}},
"y":{"field":"v","type":"quantitative","scale":{"domain":[0,4],"nice":false,"zero":false},"axis":{"orient":"left","values":[0,0.2,0.4,0.6,0.8,1,1.2,1.4,1.6,1.8,2,2.2,2.4,2.6,2.8,3,3.2,3.4,3.6,3.8,4],"labelExpr":"abs(datum.value-round(datum.value))<0.01 ? format(datum.value,'d') : ''","tickSize":{"condition":{"test":"abs(datum.value-round(datum.value))<0.01","value":12},"value":6},"labelFlush":true,"labelPadding":8,"title":"x 10⁻⁴ ph cm⁻² s⁻¹ sr⁻¹","titlePadding":30}},
"yError":{"field":"e"}}},
{"data":{"name":"m2"},"mark":{"type":"line","color":"#333333","strokeWidth":1.6},"encoding":{
"x":{"field":"l","type":"quantitative","scale":{"domain":[180,-180],"nice":false,"zero":false},"axis":{"orient":"top","values":[180,160,140,120,100,80,60,40,20,0,-20,-40,-60,-80,-100,-120,-140,-160,-180],"labels":false,"title":null}},
"y":{"field":"y","type":"quantitative","scale":{"domain":[0,4],"nice":false,"zero":false},"axis":{"orient":"right","values":[0,0.2,0.4,0.6,0.8,1,1.2,1.4,1.6,1.8,2,2.2,2.4,2.6,2.8,3,3.2,3.4,3.6,3.8,4],"labels":false,"tickSize":{"condition":{"test":"abs(datum.value-round(datum.value))<0.01","value":12},"value":6},"title":null}}}},
{"data":{"name":"d2"},"mark":{"type":"line","color":"#555555","strokeWidth":2.2,"strokeDash":[2,5],"clip":true},"encoding":{
"x":{"field":"l","type":"quantitative","scale":{"domain":[180,-180],"nice":false,"zero":false},"axis":null},
"y":{"field":"y","type":"quantitative","scale":{"domain":[0,4],"nice":false,"zero":false},"axis":null},
"detail":{"field":"s"}}},
{"data":{"values":[{}]},"mark":{"type":"text","font":"Liberation Sans","fontSize":39,"color":"#222222","align":"center","baseline":"middle"},"encoding":{
"x":{"datum":-134,"type":"quantitative","scale":{"domain":[180,-180],"nice":false,"zero":false},"axis":null},
"y":{"datum":3.48,"type":"quantitative","scale":{"domain":[0,4],"nice":false,"zero":false},"axis":null},
"text":{"value":"2°<b<6°"}}}
],
"resolve":{"axis":{"x":"independent","y":"independent"}}},
{"width":1734,"height":433,"data":{"name":"p3"},
"layer":[
{"mark":{"type":"errorbar","color":"black","thickness":4.5},"encoding":{
"x":{"field":"l","type":"quantitative","scale":{"domain":[180,-180],"nice":false,"zero":false},"axis":{"orient":"bottom","values":[180,160,140,120,100,80,60,40,20,0,-20,-40,-60,-80,-100,-120,-140,-160,-180],"labels":false,"title":null}},
"y":{"field":"v","type":"quantitative","scale":{"domain":[0,4],"nice":false,"zero":false},"axis":{"orient":"left","values":[0,0.2,0.4,0.6,0.8,1,1.2,1.4,1.6,1.8,2,2.2,2.4,2.6,2.8,3,3.2,3.4,3.6,3.8,4],"labelExpr":"abs(datum.value-round(datum.value))<0.01 ? format(datum.value,'d') : ''","tickSize":{"condition":{"test":"abs(datum.value-round(datum.value))<0.01","value":12},"value":6},"labelFlush":true,"labelPadding":8,"title":"x 10⁻⁴ ph cm⁻² s⁻¹ sr⁻¹","titlePadding":30}},
"yError":{"field":"e"}}},
{"data":{"name":"m3"},"mark":{"type":"line","color":"#333333","strokeWidth":1.6},"encoding":{
"x":{"field":"l","type":"quantitative","scale":{"domain":[180,-180],"nice":false,"zero":false},"axis":{"orient":"top","values":[180,160,140,120,100,80,60,40,20,0,-20,-40,-60,-80,-100,-120,-140,-160,-180],"labels":false,"title":null}},
"y":{"field":"y","type":"quantitative","scale":{"domain":[0,4],"nice":false,"zero":false},"axis":{"orient":"right","values":[0,0.2,0.4,0.6,0.8,1,1.2,1.4,1.6,1.8,2,2.2,2.4,2.6,2.8,3,3.2,3.4,3.6,3.8,4],"labels":false,"tickSize":{"condition":{"test":"abs(datum.value-round(datum.value))<0.01","value":12},"value":6},"title":null}}}},
{"data":{"name":"d3"},"mark":{"type":"line","color":"#555555","strokeWidth":2.2,"strokeDash":[2,5],"clip":true},"encoding":{
"x":{"field":"l","type":"quantitative","scale":{"domain":[180,-180],"nice":false,"zero":false},"axis":null},
"y":{"field":"y","type":"quantitative","scale":{"domain":[0,4],"nice":false,"zero":false},"axis":null},
"detail":{"field":"s"}}},
{"data":{"values":[{}]},"mark":{"type":"text","font":"Liberation Sans","fontSize":39,"color":"#222222","align":"center","baseline":"middle"},"encoding":{
"x":{"datum":-134,"type":"quantitative","scale":{"domain":[180,-180],"nice":false,"zero":false},"axis":null},
"y":{"datum":3.48,"type":"quantitative","scale":{"domain":[0,4],"nice":false,"zero":false},"axis":null},
"text":{"value":"-2°<b<2°"}}}
],
"resolve":{"axis":{"x":"independent","y":"independent"}}},
{"width":1734,"height":433,"data":{"name":"p4"},
"layer":[
{"mark":{"type":"errorbar","color":"black","thickness":4.5},"encoding":{
"x":{"field":"l","type":"quantitative","scale":{"domain":[180,-180],"nice":false,"zero":false},"axis":{"orient":"bottom","values":[180,160,140,120,100,80,60,40,20,0,-20,-40,-60,-80,-100,-120,-140,-160,-180],"labels":false,"title":null}},
"y":{"field":"v","type":"quantitative","scale":{"domain":[0,4],"nice":false,"zero":false},"axis":{"orient":"left","values":[0,0.2,0.4,0.6,0.8,1,1.2,1.4,1.6,1.8,2,2.2,2.4,2.6,2.8,3,3.2,3.4,3.6,3.8,4],"labelExpr":"abs(datum.value-round(datum.value))<0.01 ? format(datum.value,'d') : ''","tickSize":{"condition":{"test":"abs(datum.value-round(datum.value))<0.01","value":12},"value":6},"labelFlush":true,"labelPadding":8,"title":"x 10⁻⁴ ph cm⁻² s⁻¹ sr⁻¹","titlePadding":30}},
"yError":{"field":"e"}}},
{"data":{"name":"m4"},"mark":{"type":"line","color":"#333333","strokeWidth":1.6},"encoding":{
"x":{"field":"l","type":"quantitative","scale":{"domain":[180,-180],"nice":false,"zero":false},"axis":{"orient":"top","values":[180,160,140,120,100,80,60,40,20,0,-20,-40,-60,-80,-100,-120,-140,-160,-180],"labels":false,"title":null}},
"y":{"field":"y","type":"quantitative","scale":{"domain":[0,4],"nice":false,"zero":false},"axis":{"orient":"right","values":[0,0.2,0.4,0.6,0.8,1,1.2,1.4,1.6,1.8,2,2.2,2.4,2.6,2.8,3,3.2,3.4,3.6,3.8,4],"labels":false,"tickSize":{"condition":{"test":"abs(datum.value-round(datum.value))<0.01","value":12},"value":6},"title":null}}}},
{"data":{"name":"d4"},"mark":{"type":"line","color":"#555555","strokeWidth":2.2,"strokeDash":[2,5],"clip":true},"encoding":{
"x":{"field":"l","type":"quantitative","scale":{"domain":[180,-180],"nice":false,"zero":false},"axis":null},
"y":{"field":"y","type":"quantitative","scale":{"domain":[0,4],"nice":false,"zero":false},"axis":null},
"detail":{"field":"s"}}},
{"data":{"values":[{}]},"mark":{"type":"text","font":"Liberation Sans","fontSize":39,"color":"#222222","align":"center","baseline":"middle"},"encoding":{
"x":{"datum":-134,"type":"quantitative","scale":{"domain":[180,-180],"nice":false,"zero":false},"axis":null},
"y":{"datum":3.48,"type":"quantitative","scale":{"domain":[0,4],"nice":false,"zero":false},"axis":null},
"text":{"value":"-6°<b<-2°"}}}
],
"resolve":{"axis":{"x":"independent","y":"independent"}}},
{"width":1734,"height":433,"data":{"name":"p5"},
"layer":[
{"data":{"values":[{}]},"mark":{"type":"rect","color":"#d6d7db"},"encoding":{
"x":{"datum":171.7,"type":"quantitative","scale":{"domain":[180,-180],"nice":false,"zero":false},"axis":null},
"x2":{"datum":16.8},
"y":{"datum":3.56,"type":"quantitative","scale":{"domain":[0,4],"nice":false,"zero":false},"axis":null},
"y2":{"datum":1.89}}},
{"data":{"values":[{}]},"mark":{"type":"text","font":"Liberation Serif","fontSize":96,"color":"#111111","align":"center","baseline":"middle"},"encoding":{
"x":{"datum":94.3,"type":"quantitative","scale":{"domain":[180,-180],"nice":false,"zero":false},"axis":null},
"y":{"datum":2.71,"type":"quantitative","scale":{"domain":[0,4],"nice":false,"zero":false},"axis":null},
"text":{"value":"Hunter et al. 1997"}}},
{"mark":{"type":"errorbar","color":"black","thickness":4.5},"encoding":{
"x":{"field":"l","type":"quantitative","scale":{"domain":[180,-180],"nice":false,"zero":false},"axis":{"orient":"bottom","values":[180,160,140,120,100,80,60,40,20,0,-20,-40,-60,-80,-100,-120,-140,-160,-180],"labelExpr":"(datum.value < 0 ? datum.value + 360 : datum.value) + '°'","labelFlush":false,"labelOverlap":false,"labelBound":false,"labelFontSize":33,"labelPadding":20,"title":"Longitude","titleFontSize":34,"titlePadding":2}},
"y":{"field":"v","type":"quantitative","scale":{"domain":[0,4],"nice":false,"zero":false},"axis":{"orient":"left","values":[0,0.2,0.4,0.6,0.8,1,1.2,1.4,1.6,1.8,2,2.2,2.4,2.6,2.8,3,3.2,3.4,3.6,3.8,4],"labelExpr":"abs(datum.value-round(datum.value))<0.01 ? format(datum.value,'d') : ''","tickSize":{"condition":{"test":"abs(datum.value-round(datum.value))<0.01","value":12},"value":6},"labelFlush":true,"labelPadding":8,"title":"x 10⁻⁴ ph cm⁻² s⁻¹ sr⁻¹","titlePadding":30}},
"yError":{"field":"e"}}},
{"data":{"name":"m5"},"mark":{"type":"line","color":"#333333","strokeWidth":1.6},"encoding":{
"x":{"field":"l","type":"quantitative","scale":{"domain":[180,-180],"nice":false,"zero":false},"axis":{"orient":"top","values":[180,160,140,120,100,80,60,40,20,0,-20,-40,-60,-80,-100,-120,-140,-160,-180],"labels":false,"title":null}},
"y":{"field":"y","type":"quantitative","scale":{"domain":[0,4],"nice":false,"zero":false},"axis":{"orient":"right","values":[0,0.2,0.4,0.6,0.8,1,1.2,1.4,1.6,1.8,2,2.2,2.4,2.6,2.8,3,3.2,3.4,3.6,3.8,4],"labels":false,"tickSize":{"condition":{"test":"abs(datum.value-round(datum.value))<0.01","value":12},"value":6},"title":null}}}},
{"data":{"name":"d5"},"mark":{"type":"line","color":"#555555","strokeWidth":2.2,"strokeDash":[2,5],"clip":true},"encoding":{
"x":{"field":"l","type":"quantitative","scale":{"domain":[180,-180],"nice":false,"zero":false},"axis":null},
"y":{"field":"y","type":"quantitative","scale":{"domain":[0,4],"nice":false,"zero":false},"axis":null},
"detail":{"field":"s"}}},
{"data":{"values":[{}]},"mark":{"type":"text","font":"Liberation Sans","fontSize":39,"color":"#222222","align":"center","baseline":"middle"},"encoding":{
"x":{"datum":-134,"type":"quantitative","scale":{"domain":[180,-180],"nice":false,"zero":false},"axis":null},
"y":{"datum":3.48,"type":"quantitative","scale":{"domain":[0,4],"nice":false,"zero":false},"axis":null},
"text":{"value":"-10°<b<-6°"}}}
],
"resolve":{"axis":{"x":"independent","y":"independent"}}}
]
}
